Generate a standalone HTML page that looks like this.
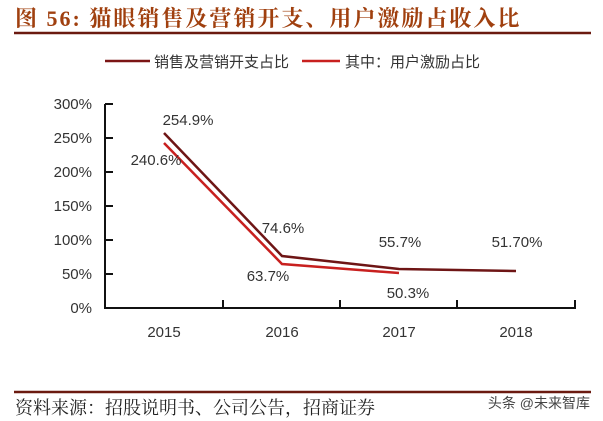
<!DOCTYPE html>
<html><head><meta charset="utf-8"><style>
body{margin:0;width:603px;height:421px;background:#fff;overflow:hidden;font-family:"Liberation Sans","Noto Sans CJK SC",sans-serif}
</style></head><body>
<svg width="603" height="421" xmlns="http://www.w3.org/2000/svg" style="position:absolute;left:0;top:0">
<text x="15" y="26" font-size="22" font-weight="bold" fill="#a0400f" letter-spacing="2" font-family="Liberation Serif,Noto Serif CJK SC,serif">图 56:  猫眼销售及营销开支、用户激励占收入比</text>
<line x1="14" y1="33" x2="591" y2="33" stroke="#6b1a10" stroke-width="2.5"/>
<line x1="105" y1="61" x2="150" y2="61" stroke="#7b1515" stroke-width="2.5"/>
<text x="154" y="67" font-size="15" fill="#333">销售及营销开支占比</text>
<line x1="302" y1="61" x2="340" y2="61" stroke="#c8201f" stroke-width="2.5"/>
<text x="345" y="67" font-size="15" fill="#333">其中：用户激励占比</text>
<g font-size="15" fill="#333" text-anchor="end">
<text x="92" y="109">300%</text><text x="92" y="143">250%</text><text x="92" y="177">200%</text>
<text x="92" y="211">150%</text><text x="92" y="245">100%</text><text x="92" y="279">50%</text><text x="92" y="313">0%</text>
</g>
<g stroke="#111" stroke-width="2">
<line x1="105" y1="104" x2="105" y2="309"/>
<line x1="104" y1="308" x2="576" y2="308"/>
<line x1="105" y1="104" x2="113" y2="104"/><line x1="105" y1="138" x2="113" y2="138"/>
<line x1="105" y1="172" x2="113" y2="172"/><line x1="105" y1="206" x2="113" y2="206"/>
<line x1="105" y1="240" x2="113" y2="240"/><line x1="105" y1="274" x2="113" y2="274"/>
<line x1="223" y1="300" x2="223" y2="308"/><line x1="340" y1="300" x2="340" y2="308"/>
<line x1="457" y1="300" x2="457" y2="308"/><line x1="575" y1="300" x2="575" y2="308"/>
</g>
<polyline points="164,133 282,256 399,269 516,271" fill="none" stroke="#6e1515" stroke-width="2.5"/>
<polyline points="164,143 282,264 399,273" fill="none" stroke="#c8201f" stroke-width="2.5"/>
<g font-size="15" fill="#333" text-anchor="middle">
<text x="188" y="125">254.9%</text><text x="156" y="165">240.6%</text>
<text x="283" y="233">74.6%</text><text x="268" y="281">63.7%</text>
<text x="400" y="247">55.7%</text><text x="408" y="298">50.3%</text>
<text x="517" y="247">51.70%</text>
<text x="164" y="337">2015</text><text x="282" y="337">2016</text><text x="399" y="337">2017</text><text x="516" y="337">2018</text>
</g>
<line x1="14" y1="392" x2="591" y2="392" stroke="#6b1a10" stroke-width="2.5"/>
<text x="15" y="414" font-size="18" fill="#222" font-family="Noto Serif CJK SC,serif">资料来源：招股说明书、公司公告，招商证券</text>
<text x="590" y="408" font-size="14" fill="#444" text-anchor="end">头条 @未来智库</text>
</svg>
</body></html>
